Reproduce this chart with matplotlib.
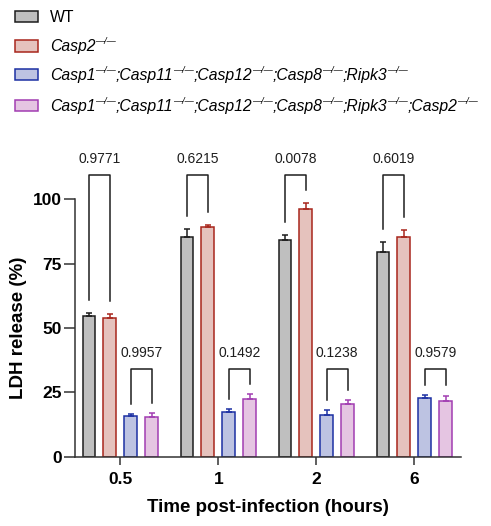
import matplotlib
matplotlib.use("Agg")
import matplotlib.pyplot as plt
from matplotlib.patches import Rectangle
import numpy as np

plt.rcParams["font.family"] = ["Liberation Sans", "DejaVu Sans"]

# data
times = ["0.5", "1", "2", "6"]
# legend labels as (text, superscript?) pieces
KO = "\u2014/\u2014"
groups = [
    [("WT", False)],
    [("Casp2", True)],
    [("Casp1", True), (";Casp11", True), (";Casp12", True), (";Casp8", True),
     (";Ripk3", True)],
    [("Casp1", True), (";Casp11", True), (";Casp12", True), (";Casp8", True),
     (";Ripk3", True), (";Casp2", True)],
]
wt = [54.5, 85.2, 84.2, 79.5]
wt_err = [1.3, 3.3, 1.9, 4.0]
casp2 = [53.8, 89.3, 96.1, 85.2]
casp2_err = [1.6, 0.6, 2.5, 2.9]
quint = [15.7, 17.3, 16.3, 22.7]
quint_err = [0.9, 1.1, 1.7, 1.2]
sext = [15.4, 22.3, 20.5, 21.6]
sext_err = [1.5, 2.0, 1.4, 2.1]
p_upper = ["0.9771", "0.6215", "0.0078", "0.6019"]
p_lower = ["0.9957", "0.1492", "0.1238", "0.9579"]

fills = ["#bfbfbf", "#e5c2bd", "#bdc3e2", "#e5c5e2"]
edges = ["#1c1c1c", "#a8261c", "#1c30a3", "#a23db2"]
offsets = [-0.32, -0.107, 0.107, 0.32]
width = 0.13

W, H = 491, 526
fig = plt.figure(figsize=(W / 100, H / 100), dpi=100)
ax = fig.add_axes([75 / W, 69.3 / H, 385.7 / W, 257.4 / H])

x = np.arange(len(times))
values = [wt, casp2, quint, sext]
errors = [wt_err, casp2_err, quint_err, sext_err]
for vals, errs, off, fc, ec in zip(values, errors, offsets, fills, edges):
    ax.bar(x + off, vals, width, color=fc, edgecolor=ec, linewidth=1.1, zorder=2)
    ax.errorbar(x + off, vals, yerr=[np.zeros(len(errs)), errs], fmt="none",
                ecolor=ec, elinewidth=1.1, capsize=2.5, capthick=1.1, zorder=3)


def bracket(x1, x2, y1, y2, top, label):
    ax.plot([x1, x1, x2, x2], [y1, top, top, y2], color="#1e1e1e", lw=1.1,
            clip_on=False, zorder=4)
    ax.text((x1 + x2) / 2, top + 6.2, label, ha="center", va="center",
            fontsize=10, color="#1e1e1e", clip_on=False)


for i in range(len(times)):
    bracket(x[i] + offsets[0], x[i] + offsets[1],
            wt[i] + wt_err[i] + 5, casp2[i] + casp2_err[i] + 5, 109.3, p_upper[i])
    bracket(x[i] + offsets[2], x[i] + offsets[3],
            quint[i] + quint_err[i] + 4, sext[i] + sext_err[i] + 4, 34.0, p_lower[i])

ax.set_xlim(-0.462, 3.473)
ax.set_ylim(0, 100)
ax.set_yticks([0, 25, 50, 75, 100])
ax.set_xticks(x)
ax.set_xticklabels(times)
for s in ["top", "right"]:
    ax.spines[s].set_visible(False)
for s in ["left", "bottom"]:
    ax.spines[s].set_linewidth(1.1)
    ax.spines[s].set_color("#333333")
ax.tick_params(axis="y", length=8, width=1.1, color="#333333", pad=1.5,
               labelsize=12.5)
ax.tick_params(axis="x", length=6, width=1.1, color="#333333", pad=5,
               labelsize=12.5)
for lab in ax.get_xticklabels() + ax.get_yticklabels():
    lab.set_fontweight("bold")
ax.set_ylabel("LDH release (%)", fontsize=13.5, fontweight="bold", labelpad=4)
ax.set_xlabel("Time post-infection (hours)", fontsize=13.5, fontweight="bold",
              labelpad=9)

# legend drawn by hand, superscripts placed piece by piece
renderer = fig.canvas.get_renderer()
leg_size = 11.3
rows = [16.5, 46, 74.5, 105]
for yy, pieces, fc, ec in zip(rows, groups, fills, edges):
    fig.patches.append(Rectangle((14.5 / W, 1 - (yy + 5.5) / H), 23 / W,
                                 11 / H, transform=fig.transFigure,
                                 facecolor=fc, edgecolor=ec, lw=1.1))
    xp = 50.0
    base = H - (yy + 5.5)
    italic = len(pieces) > 1 or pieces[0][1]
    for txt, sup in pieces:
        t = fig.text(xp / W, base / H, txt, fontsize=leg_size, va="baseline",
                     style="italic" if italic else "normal")
        xp += t.get_window_extent(renderer=renderer).width
        if sup:
            s = fig.text(xp / W, (base + 7) / H, KO, fontsize=6.6,
                         va="baseline", style="italic")
            xp += s.get_window_extent(renderer=renderer).width - 0.5

fig.savefig("out.png", dpi=100)
